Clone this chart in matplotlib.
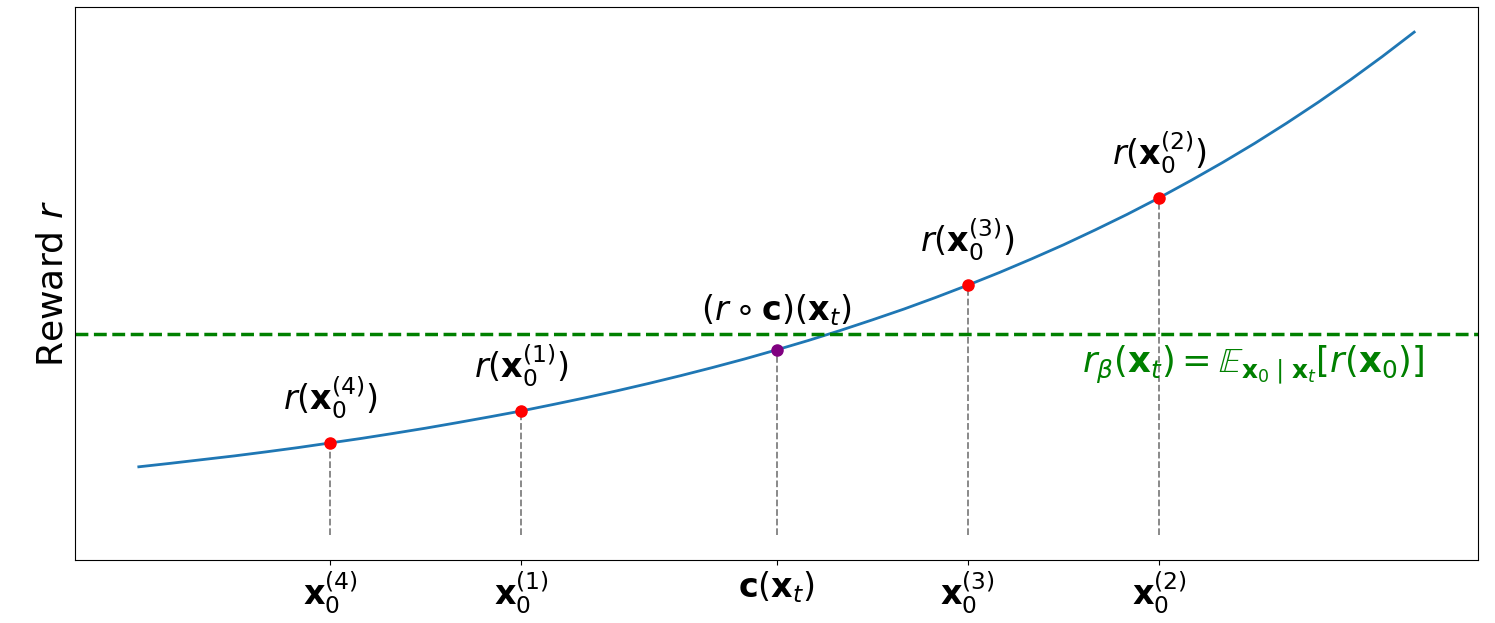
import numpy as np
import matplotlib.pyplot as plt

# Curva de recompensa
curve_x = [-1.0, -0.95, -0.9, -0.85, -0.8, -0.75, -0.7, -0.65, -0.6, -0.55, -0.5,
           -0.45, -0.4, -0.35, -0.3, -0.25, -0.2, -0.15, -0.1, -0.05, 0.0,
           0.05, 0.1, 0.15, 0.2, 0.25, 0.3, 0.35, 0.4, 0.45, 0.5,
           0.55, 0.6, 0.65, 0.7, 0.75, 0.8, 0.85, 0.9, 0.95, 1.0]
curve_y = [0.368, 0.387, 0.407, 0.427, 0.449, 0.472, 0.497, 0.522, 0.549, 0.577, 0.607,
           0.638, 0.670, 0.705, 0.741, 0.779, 0.819, 0.861, 0.905, 0.951, 1.000,
           1.051, 1.105, 1.162, 1.221, 1.284, 1.350, 1.419, 1.492, 1.568, 1.649,
           1.733, 1.822, 1.916, 2.014, 2.117, 2.226, 2.340, 2.460, 2.586, 2.718]

# Muestras x0^(i)
sample_x = [-0.7, -0.4, 0.3, 0.6]
sample_y = [0.497, 0.670, 1.350, 1.822]
sample_idx = [4, 1, 3, 2]

# Punto c(x_t)
center_x = 0.0
center_y = 1.00

# Valor esperado
mean_reward = 1.085


def plot_reward():
    fig, ax = plt.subplots(figsize=(14.95, 6.23), dpi=100)
    fig.subplots_adjust(left=0.0502, right=0.9886, top=0.9888, bottom=0.1011)

    ax.plot(curve_x, curve_y, color='#1f77b4', lw=2)

    # Líneas verticales hasta el eje
    for xs, ys in zip(sample_x + [center_x], sample_y + [center_y]):
        ax.vlines(xs, 0, ys, colors='gray', linestyles='--', lw=1.3)

    ax.plot(sample_x, sample_y, 'o', color='red', ms=8, zorder=5)
    ax.plot([center_x], [center_y], 'o', color='purple', ms=8, zorder=5)

    ax.axhline(mean_reward, color='green', ls='--', lw=2.5)

    # Etiquetas sobre los puntos
    for xs, ys, i in zip(sample_x, sample_y, sample_idx):
        ax.annotate(r'$r(\mathbf{x}_0^{(%d)})$' % i, (xs, ys), xytext=(0, 16),
                    textcoords='offset points', ha='center', va='bottom', fontsize=24)
    ax.annotate(r'$(r \circ \mathbf{c})(\mathbf{x}_t)$', (center_x, center_y),
                xytext=(0, 16), textcoords='offset points', ha='center',
                va='bottom', fontsize=24)

    ax.text(1.016, mean_reward - 0.05,
            r'$r_\beta(\mathbf{x}_t) = \mathbb{E}_{\mathbf{x}_0 \mid \mathbf{x}_t}[r(\mathbf{x}_0)]$',
            color='green', fontsize=25.5, ha='right', va='top')

    ticks = sample_x + [center_x]
    labels = [r'$\mathbf{x}_0^{(%d)}$' % i for i in sample_idx] + [r'$\mathbf{c}(\mathbf{x}_t)$']
    ax.set_xticks(ticks)
    ax.set_xticklabels(labels, fontsize=24)
    ax.set_yticks([])
    ax.set_ylabel(r'Reward $r$', fontsize=26)

    fig.savefig('out.png')


if __name__ == "__main__":
    plot_reward()
